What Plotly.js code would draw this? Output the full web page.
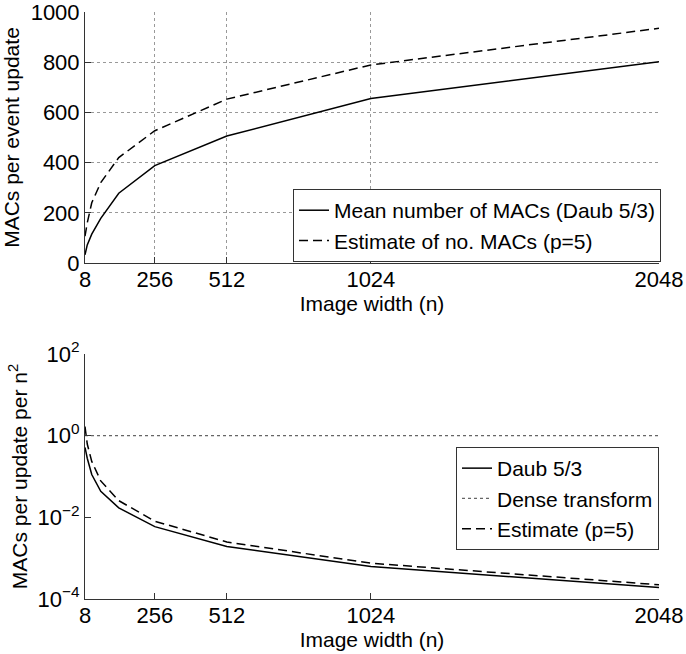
<!DOCTYPE html>
<html>
<head>
<meta charset="utf-8">
<script src="https://cdn.plot.ly/plotly-3.0.1.min.js"></script>
<style>html,body{margin:0;padding:0;background:#fff;}#chart{width:686px;height:654px;}</style>
</head>
<body>
<div id="chart"></div>
<script>
// Image widths (n)
var imageWidth = [8, 16, 32, 64, 128, 256, 512, 1024, 2048];
// Top panel: MACs per event update
var meanMACs = [33, 72, 115, 178, 278, 388, 506, 655, 802];
var estimateMACs = [107, 160, 240, 320, 420, 527, 653, 789, 935];
// Bottom panel: MACs per update per n^2
var daubPerN2 = [0.516, 0.28, 0.112, 0.0435, 0.017, 0.00592, 0.00193, 0.000625, 0.000191];
var densePerN2 = [1, 1, 1, 1, 1, 1, 1, 1, 1];
var estimatePerN2 = [1.67, 0.625, 0.234, 0.078, 0.0256, 0.00804, 0.00249, 0.000752, 0.000223];
// Tick labels
var xTicks = [8, 256, 512, 1024, 2048];
var yTicksTop = [0, 200, 400, 600, 800, 1000];
var yTicksBottom = [1e-4, 1e-2, 1, 100];
var yTickTextBottom = ['10<sup>\u22124</sup>', '10<sup>\u22122</sup>', '10<sup>0</sup>', '10<sup>2</sup>'];

var FONT = 'Liberation Sans, Arial, Helvetica, sans-serif';
var AX = '#333';
var DASH = '9px,5px';

var traces = [
  {x: imageWidth, y: meanMACs, xaxis: 'x', yaxis: 'y', mode: 'lines', name: 'Mean number of MACs (Daub 5/3)',
   line: {color: '#000', width: 1.5}, legend: 'legend'},
  {x: imageWidth, y: estimateMACs, xaxis: 'x', yaxis: 'y', mode: 'lines', name: 'Estimate of no. MACs (p=5)',
   line: {color: '#000', width: 1.5, dash: DASH}, legend: 'legend'},
  {x: imageWidth, y: daubPerN2, xaxis: 'x2', yaxis: 'y2', mode: 'lines', name: 'Daub 5/3',
   line: {color: '#000', width: 1.5}, legend: 'legend2'},
  {x: imageWidth, y: densePerN2, xaxis: 'x2', yaxis: 'y2', mode: 'lines', name: 'Dense transform',
   line: {color: '#666', width: 1.2, dash: 'dot'}, legend: 'legend2'},
  {x: imageWidth, y: estimatePerN2, xaxis: 'x2', yaxis: 'y2', mode: 'lines', name: 'Estimate (p=5)',
   line: {color: '#000', width: 1.5, dash: DASH}, legend: 'legend2'}
];

var xBase = {
  range: [8, 2048], tickvals: xTicks, ticktext: xTicks.map(String),
  showline: true, linecolor: AX, linewidth: 1, ticks: 'inside', ticklen: 6, tickcolor: AX,
  zeroline: false, tickfont: {family: FONT, size: 22, color: '#000'}, ticklabelstandoff: -3,
  ticklabeloverflow: 'allow'
};

var layout = {
  width: 686, height: 654,
  margin: {l: 85, r: 27, t: 12, b: 55},
  paper_bgcolor: '#fff', plot_bgcolor: '#fff',
  font: {family: FONT, size: 21, color: '#000'},
  xaxis: Object.assign({}, xBase, {
    domain: [0, 1], anchor: 'y',
    showgrid: true, gridcolor: '#999', griddash: 'dot', gridwidth: 1,
    title: {text: 'Image width (n)', font: {family: FONT, size: 21}, standoff: 0}
  }),
  yaxis: {
    domain: [0.5724, 1], anchor: 'x', range: [0, 1000], tickvals: yTicksTop,
    showline: true, linecolor: AX, linewidth: 1, ticks: 'inside', ticklen: 6, tickcolor: AX,
    zeroline: false, showgrid: true, gridcolor: '#999', griddash: 'dot', gridwidth: 1,
    tickfont: {family: FONT, size: 22, color: '#000'}, ticklabeloverflow: 'allow',
    title: {text: 'MACs per event update', font: {family: FONT, size: 21}, standoff: 6}
  },
  xaxis2: Object.assign({}, xBase, {
    domain: [0, 1], anchor: 'y2', showgrid: false,
    title: {text: 'Image width (n)', font: {family: FONT, size: 21}, standoff: 0}
  }),
  yaxis2: {
    domain: [0, 0.4174], anchor: 'x2', type: 'log', range: [-4, 2],
    tickvals: yTicksBottom, ticktext: yTickTextBottom,
    showline: true, linecolor: AX, linewidth: 1, ticks: 'inside', ticklen: 6, tickcolor: AX,
    zeroline: false, showgrid: false,
    tickfont: {family: FONT, size: 22, color: '#000'}, ticklabeloverflow: 'allow',
    title: {text: 'MACs per update per n<sup>2</sup>', font: {family: FONT, size: 21}, standoff: 4}
  },
  legend: {
    x: 1.0035, y: 0.574, xanchor: 'right', yanchor: 'bottom',
    bgcolor: '#fff', bordercolor: '#333', borderwidth: 1,
    font: {family: FONT, size: 21, color: '#000'}, tracegroupgap: 0
  },
  legend2: {
    x: 1.0, y: 0.0835, xanchor: 'right', yanchor: 'bottom',
    bgcolor: '#fff', bordercolor: '#333', borderwidth: 1,
    font: {family: FONT, size: 21, color: '#000'}, tracegroupgap: 0
  },
  showlegend: true
};

Plotly.newPlot('chart', traces, layout, {staticPlot: true, displayModeBar: false});
</script>
</body>
</html>
